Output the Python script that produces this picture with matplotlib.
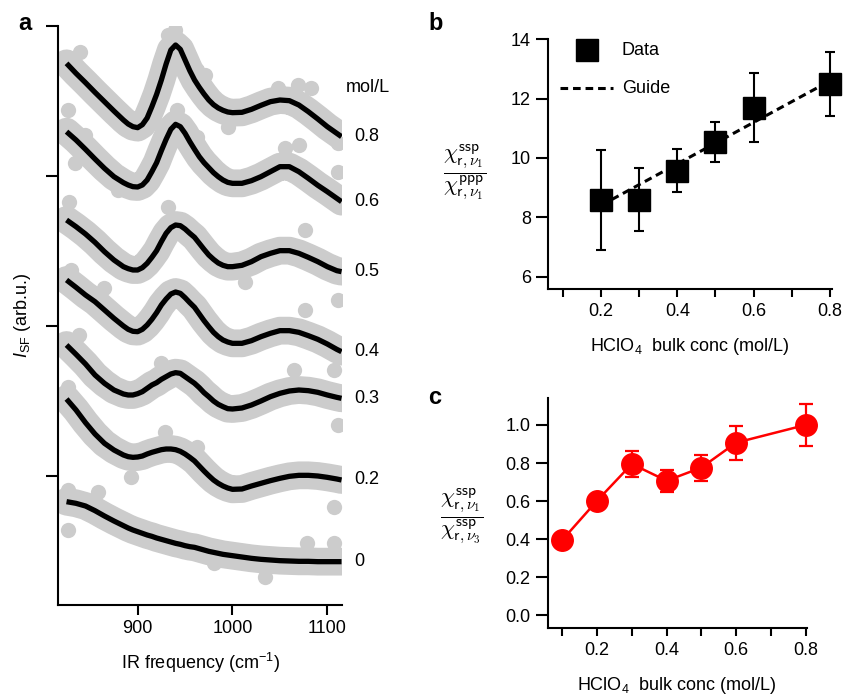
import matplotlib.pyplot as plt

plt.rcParams['font.family'] = ['Liberation Sans', 'DejaVu Sans']
plt.rcParams['mathtext.fontset'] = 'custom'
plt.rcParams['mathtext.rm'] = 'Liberation Sans'
plt.rcParams['mathtext.it'] = 'Liberation Sans:italic'
plt.rcParams['mathtext.bf'] = 'Liberation Sans:bold'
plt.rcParams['font.size'] = 13

# ---- panel a: SF spectra (offset, arb. units) ----
freq = [825, 835, 845, 855, 865, 875, 885, 890, 895, 900, 905, 910, 915, 920,
        925, 930, 935, 940, 945, 950, 955, 960, 965, 970, 975, 980, 985, 990,
        995, 1000, 1010, 1020, 1030, 1040, 1050, 1060, 1070, 1080, 1090, 1100,
        1110, 1115]

fit_08 = [1625, 1595, 1567, 1538, 1510, 1482, 1455, 1443, 1435, 1432, 1441, 1461,
          1495, 1532, 1575, 1623, 1665, 1680, 1667, 1635, 1603, 1575, 1553, 1533,
          1515, 1501, 1491, 1484, 1479, 1477, 1478, 1487, 1499, 1510, 1515, 1513,
          1500, 1480, 1458, 1435, 1415, 1405]
fit_06 = [1420, 1395, 1367, 1338, 1310, 1285, 1267, 1260, 1255, 1254, 1260, 1275,
          1300, 1327, 1363, 1397, 1427, 1442, 1435, 1415, 1390, 1367, 1345, 1327,
          1312, 1297, 1285, 1275, 1268, 1265, 1265, 1273, 1285, 1300, 1315, 1315,
          1300, 1280, 1259, 1240, 1220, 1210]
fit_05 = [1155, 1135, 1113, 1088, 1060, 1035, 1015, 1009, 1005, 1005, 1012, 1025,
          1043, 1063, 1090, 1115, 1132, 1140, 1138, 1128, 1115, 1103, 1085, 1067,
          1050, 1037, 1026, 1019, 1015, 1015, 1019, 1030, 1045, 1055, 1063, 1063,
          1055, 1043, 1030, 1015, 1003, 1000]
fit_04 = [975, 953, 930, 910, 885, 860, 837, 827, 821, 820, 827, 840,
          857, 877, 900, 918, 933, 939, 935, 922, 907, 893, 873, 853,
          835, 818, 805, 795, 789, 785, 785, 793, 805, 815, 823, 823,
          818, 808, 797, 783, 767, 760]
fit_03 = [780, 752, 723, 690, 665, 645, 633, 630, 630, 634, 640, 650,
          660, 667, 677, 685, 693, 697, 695, 685, 675, 665, 652, 637,
          625, 612, 602, 595, 589, 588, 591, 600, 612, 625, 635, 642,
          645, 643, 638, 630, 623, 620]
fit_02 = [618, 585, 547, 513, 485, 465, 450, 445, 443, 444, 447, 453,
          458, 462, 466, 468, 468, 466, 461, 453, 443, 432, 417, 402,
          388, 375, 365, 357, 351, 347, 348, 357, 365, 373, 380, 386,
          389, 389, 387, 383, 378, 375]
fit_00 = [310, 305, 297, 283, 267, 252, 238, 231, 225, 220, 215, 210,
          206, 201, 197, 193, 189, 185, 182, 178, 175, 173, 169, 165,
          161, 158, 155, 152, 150, 148, 144, 140, 137, 135, 133, 132,
          131, 131, 130, 130, 130, 130]

conc_labels = ['0.8', '0.6', '0.5', '0.4', '0.3', '0.2', '0']
fits = [fit_08, fit_06, fit_05, fit_04, fit_03, fit_02, fit_00]

# scattered data points standing out of the bands
dots_f = [839, 826, 827, 939, 932, 963, 971, 1048, 1069, 1083, 1100, 1111, 995,
          941, 844, 834, 879, 897, 1055, 1070, 1111, 963,
          828, 932, 1076, 1111, 1013,
          865, 830, 1076, 1107,
          838, 827, 925, 1111, 1065,
          893, 929, 963, 1107,
          827, 827, 858, 1034, 1079, 1107, 981]
dots_v = [1660, 1640, 1485, 1725, 1710, 1605, 1590, 1550, 1560, 1550, 1425, 1385, 1435,
          1485, 1410, 1325, 1245, 1245, 1370, 1380, 1300, 1405,
          1210, 1195, 1125, 915, 970,
          950, 1005, 885, 705,
          810, 655, 725, 540, 705,
          385, 520, 475, 295,
          345, 225, 340, 85, 185, 185, 125]

# ---- panel b ----
conc_b = [0.2, 0.3, 0.4, 0.5, 0.6, 0.8]
ratio_b = [8.58, 8.6, 9.57, 10.53, 11.69, 12.49]
err_b = [1.68, 1.05, 0.73, 0.68, 1.16, 1.08]
guide_x = [0.2, 0.8]
guide_y = [8.4, 12.6]

# ---- panel c ----
conc_c = [0.1, 0.2, 0.3, 0.4, 0.5, 0.6, 0.8]
ratio_c = [0.396, 0.602, 0.795, 0.707, 0.776, 0.907, 1.0]
err_c = [0.02, 0.02, 0.068, 0.058, 0.068, 0.09, 0.11]

gray = '#cccccc'
W, H = 845, 695

fig = plt.figure(figsize=(8.45, 6.95), dpi=100)

def style(ax, xlen, ylen):
    for s in ['top', 'right']:
        ax.spines[s].set_visible(False)
    for s in ['left', 'bottom']:
        ax.spines[s].set_linewidth(1.5)
    ax.tick_params(axis='x', direction='out', length=xlen, width=1.5, pad=4)
    ax.tick_params(axis='y', direction='out', length=ylen, width=1.5, pad=4)

# panel a
ax_a = fig.add_axes([58 / W, 90 / H, 284 / W, 579 / H])
style(ax_a, 7, 8.6)
for lab, fit in zip(conc_labels, fits):
    ax_a.plot(freq, fit, color=gray, lw=20, solid_capstyle='round',
              solid_joinstyle='round', zorder=1)
    ax_a.plot(freq, fit, color='k', lw=3.8, solid_capstyle='butt',
              solid_joinstyle='round', zorder=3)
    ax_a.text(1128, fit[-1], lab, ha='left', va='center', clip_on=False)
ax_a.plot(dots_f, dots_v, 'o', color=gray, ms=11, mec='none', zorder=2)
ax_a.text(1119, 1551, 'mol/L', ha='left', va='center', clip_on=False)
ax_a.set_xlim(816, 1115.5)
ax_a.set_ylim(0, 1737)
ax_a.set_xticks([900, 1000, 1100])
ax_a.set_yticks([387, 837, 1287, 1737])
ax_a.set_yticklabels([])
fig.text(200 / W, 1 - 663 / H, r'IR frequency (cm$^{-1}$)', ha='center', va='center')
fig.text(23 / W, 1 - 315 / H, r'$I_{\mathrm{SF}}$ (arb.u.)', rotation=90,
         ha='center', va='center')

# panel b
ax_b = fig.add_axes([548.3 / W, (H - 289.3) / H, 283.7 / W, 250 / H])
style(ax_b, 6, 8.5)
ax_b.plot(guide_x, guide_y, color='k', lw=2.2, dashes=(2.5, 1.6), zorder=2)
eb = ax_b.errorbar(conc_b, ratio_b, yerr=err_b, fmt='s', color='k', ms=16,
                   elinewidth=1.5, capsize=3.6, capthick=1.5, zorder=3)
for art in eb.lines[0:1] + tuple(eb.lines[1]) + tuple(eb.lines[2]):
    art.set_clip_on(False)
ax_b.set_xlim(0.0625, 0.805)
ax_b.set_ylim(5.575, 14)
ax_b.set_xticks([0.1, 0.2, 0.3, 0.4, 0.5, 0.6, 0.7, 0.8],
                ['', '0.2', '', '0.4', '', '0.6', '', '0.8'])
ax_b.set_yticks([6, 8, 10, 12, 14])
ax_b.plot([0.136], [0.957], 's', color='k', ms=16, transform=ax_b.transAxes, clip_on=False)
ax_b.text(0.259, 0.957, 'Data', va='center', transform=ax_b.transAxes)
ax_b.plot([0.041, 0.228], [0.804, 0.804], color='k', lw=2.2, dashes=(2.5, 1.6),
          transform=ax_b.transAxes)
ax_b.text(0.259, 0.804, 'Guide', va='center', transform=ax_b.transAxes)
fig.text(465 / W, 1 - 172.7 / H,
         r'$\dfrac{\chi^{\mathsf{ssp}}_{\mathsf{r},\nu_1}}{\chi^{\mathsf{ppp}}_{\mathsf{r},\nu_1}}$',
         ha='center', va='center', fontsize=16, math_fontfamily='cm')
fig.text(690 / W, 1 - 346.7 / H, r'HClO$_4$  bulk conc (mol/L)', ha='center', va='center')

# panel c
ax_c = fig.add_axes([547.7 / W, (H - 628.3) / H, 259 / W, 230 / H])
style(ax_c, 6, 8.5)
ec = ax_c.errorbar(conc_c, ratio_c, yerr=err_c, fmt='-o', color='red', ms=15.5, lw=1.8,
                   elinewidth=1.6, capsize=4.8, capthick=1.6)
for art in ec.lines[0:1] + tuple(ec.lines[1]) + tuple(ec.lines[2]):
    art.set_clip_on(False)
ax_c.set_xlim(0.058, 0.803)
ax_c.set_ylim(-0.068, 1.14)
ax_c.set_xticks([0.1, 0.2, 0.3, 0.4, 0.5, 0.6, 0.7, 0.8],
                ['', '0.2', '', '0.4', '', '0.6', '', '0.8'])
ax_c.set_yticks([0.0, 0.2, 0.4, 0.6, 0.8, 1.0],
                ['0.0', '0.2', '0.4', '0.6', '0.8', '1.0'])
fig.text(461.7 / W, 1 - 516.7 / H,
         r'$\dfrac{\chi^{\mathsf{ssp}}_{\mathsf{r},\nu_1}}{\chi^{\mathsf{ssp}}_{\mathsf{r},\nu_3}}$',
         ha='center', va='center', fontsize=16, math_fontfamily='cm')
fig.text(677 / W, 1 - 685 / H, r'HClO$_4$  bulk conc (mol/L)', ha='center', va='center')

# panel letters
fig.text(18 / W, 1 - 23 / H, 'a', fontsize=17, fontweight='bold', va='center')
fig.text(428 / W, 1 - 23 / H, 'b', fontsize=17, fontweight='bold', va='center')
fig.text(428 / W, 1 - 397 / H, 'c', fontsize=17, fontweight='bold', va='center')

fig.savefig('out.png', dpi=100)
